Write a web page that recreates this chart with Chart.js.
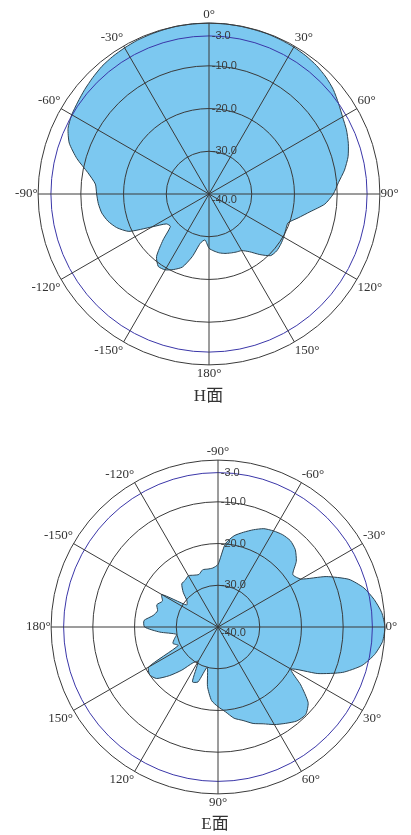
<!DOCTYPE html>
<html>
<head>
<meta charset="utf-8">
<script src="https://cdn.jsdelivr.net/npm/chart.js@4.4.0/dist/chart.umd.min.js"></script>
<style>
  html, body { margin: 0; padding: 0; background: #fff; overflow: hidden; }
  .plot { position: relative; width: 411px; }
  #wrapH { height: 407px; }
  #wrapE { height: 428px; }
</style>
</head>
<body>
<div class="plot" id="wrapH"><canvas id="chartH"></canvas></div>
<div class="plot" id="wrapE"><canvas id="chartE"></canvas></div>
<script>
// H plane: angles clockwise from the top, level in dB
const H_ANGLES = [
  0, 5, 10, 15, 20, 25, 30, 35, 40, 45, 50, 55,
  60, 65, 70, 75, 80, 85, 90, 95, 100, 105, 110, 115,
  120, 125, 130, 135, 140, 145, 150, 155, 160, 165, 170, 175,
  180, -175, -170, -165, -160, -155, -150, -145, -140, -135, -130, -125,
  -120, -115, -110, -105, -100, -95, -90, -85, -80, -75, -70, -65,
  -60, -55, -50, -45, -40, -35, -30, -25, -20, -15, -10, -5,
];
const H_LEVELS = [
  0, 0, -0.05, -0.1, -0.1, -0.2, -0.3, -0.5, -0.8, -1.3, -2.0, -3.0,
  -3.9, -4.5, -5.3, -6.3, -7.8, -9.6, -10.9, -12.8, -16.0, -18.4, -20.3, -20.2,
  -19.8, -19.5, -19.3, -19.6, -21.5, -23.5, -24.7, -25.0, -25.3, -25.6, -26.0, -26.6,
  -27.3, -29.2, -28.3, -24.8, -21.8, -20.5, -19.5, -19.3, -20.9, -24.8, -28.2, -27.8,
  -24.6, -19.3, -17.0, -15.5, -14.5, -14.0, -13.7, -13.3, -11.2, -8.0, -5.2, -3.6,
  -2.9, -2.5, -2.0, -1.5, -1.0, -0.7, -0.5, -0.3, -0.2, -0.1, 0, 0,
];

// E plane: starts at -90 on top, also clockwise
const E_ANGLES = [
  -90, -85, -80, -75, -70, -65, -60, -55, -50, -45, -40, -35,
  -30, -25, -20, -15, -10, -5, 0, 5, 10, 15, 20, 25,
  30, 35, 40, 45, 50, 55, 60, 65, 70, 75, 80, 85,
  90, 95, 100, 105, 110, 115, 120, 125, 130, 135, 140, 145,
  150, 155, 160, 165, 170, 175, 180, -175, -170, -165, -160, -155,
  -150, -145, -140, -135, -130, -125, -120, -115, -110, -105, -100, -95,
];
const E_LEVELS = [
  -25.0, -20.0, -17.8, -16.5, -15.2, -14.0, -13.4, -13.0, -13.0, -13.8, -15.5, -18.1,
  -17.0, -11.4, -6.6, -3.8, -2.0, -0.6, 0, -0.4, -1.9, -4.3, -8.2, -13.6,
  -19.8, -15.8, -11.8, -10.3, -10.6, -11.8, -13.0, -14.4, -15.4, -16.8, -17.8, -19.6,
  -20.9, -22.3, -25.5, -30.0, -26.0, -25.5, -30.5, -29.5, -26.5, -23.5, -20.8, -20.0,
  -20.8, -29.5, -28.5, -29.2, -29.9, -26.0, -22.4, -22.2, -24.2, -25.0, -24.4, -25.3,
  -24.4, -30.8, -30.3, -28.2, -26.5, -26.3, -25.8, -26.3, -26.6, -25.8, -25.9, -25.8,
];

const RING_TICKS = [-40, -30, -20, -10, -3, 0];

const GRID = '#3a3a3a';
const RING_3DB = '#3a36a8';
const FILL = '#7cc8f0';
const OUTLINE = '#2c4250';

function tickText(v) {
  if (v === 0) return '';
  const t = v.toFixed(1);
  // push the label to the right of the vertical axis
  const s = '\u00a0'.repeat(t.length * 2) + t;
  // the centre label sits a little below the origin
  return v === -40 ? ['', s] : s;
}

function buildPolar(canvasId, title, angles, levels, padding, titleGap) {
  return new Chart(document.getElementById(canvasId), {
    type: 'radar',
    data: {
      labels: angles,
      datasets: [{
        data: levels,
        fill: 'start',
        backgroundColor: FILL,
        borderColor: OUTLINE,
        borderWidth: 1,
        pointRadius: 0,
        tension: 0.2,
      }],
    },
    options: {
      responsive: true,
      maintainAspectRatio: false,
      animation: false,
      layout: { padding: padding },
      plugins: {
        legend: { display: false },
        tooltip: { enabled: false },
        title: {
          display: true,
          text: title,
          position: 'bottom',
          color: '#333',
          font: { family: "'Liberation Serif', 'Noto Sans CJK SC'", size: 17, weight: 'normal' },
          padding: { top: titleGap, bottom: 0 },
        },
      },
      scales: {
        r: {
          min: -40,
          max: 0,
          afterBuildTicks(scale) {
            scale.ticks = RING_TICKS.map(v => ({ value: v }));
          },
          ticks: {
            z: 2,
            showLabelBackdrop: false,
            backdropPadding: 0,
            color: '#3a3a3a',
            font: ctx => ({
              family: "'Liberation Sans'",
              size: 11,
              lineHeight: ctx.tick && ctx.tick.value === -40 ? 0.5 : 1.2,
            }),
            callback: tickText,
          },
          grid: {
            z: 1,
            circular: true,
            color: ctx => (ctx.tick && ctx.tick.value === -3 ? RING_3DB : GRID),
            lineWidth: 1,
          },
          angleLines: {
            color: GRID,
            lineWidth: ctx => (ctx.index % 6 === 0 ? 1 : 0),
          },
          pointLabels: {
            color: '#333',
            padding: -5,
            font: { family: "'Liberation Serif'", size: 13 },
            callback: (label) => (label % 30 === 0 ? label + '°' : ''),
          },
        },
      },
    },
  });
}

buildPolar('chartH', 'H面', H_ANGLES, H_LEVELS, { top: 7, left: 6, right: 0, bottom: 0 }, 5);
buildPolar('chartE', 'E面', E_ANGLES, E_LEVELS, { top: 37, left: 19, right: 0, bottom: 0 }, 3);
</script>
</body>
</html>
